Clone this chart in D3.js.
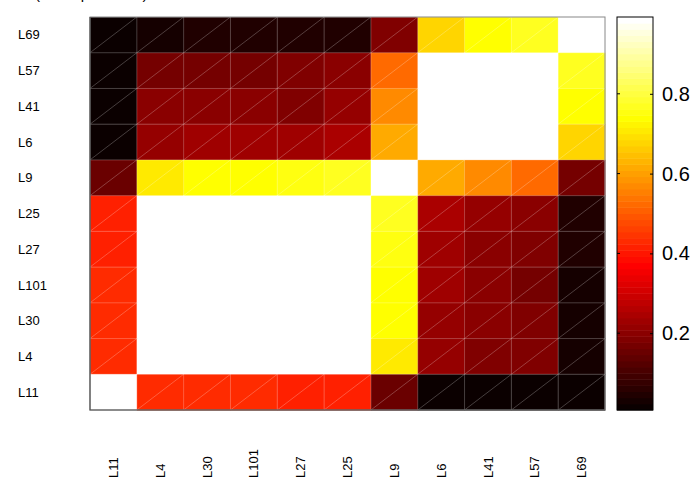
<!DOCTYPE html>
<html><head><meta charset="utf-8">
<script src="https://cdn.jsdelivr.net/npm/d3@7"></script>
<style>body{margin:0;background:#fff}svg{display:block;font-family:"Liberation Sans",Arial,sans-serif}</style>
</head><body><svg id="c" width="700" height="483"></svg>
<script>
const titleText = "(overlap fraction)";
const rowLabels = ["L69","L57","L41","L6","L9","L25","L27","L101","L30","L4","L11"];
const colLabels = ["L11","L4","L30","L101","L27","L25","L9","L6","L41","L57","L69"];
const rowL69  = [0.01,0.03,0.05,0.05,0.05,0.05,0.18,0.68,0.74,0.77,1.00];
const rowL57  = [0.01,0.17,0.17,0.17,0.18,0.20,0.52,1.00,1.00,1.00,0.77];
const rowL41  = [0.01,0.20,0.20,0.20,0.18,0.22,0.57,1.00,1.00,1.00,0.74];
const rowL6   = [0.01,0.22,0.23,0.23,0.23,0.25,0.62,1.00,1.00,1.00,0.68];
const rowL9   = [0.15,0.71,0.74,0.74,0.75,0.77,1.00,0.62,0.57,0.52,0.17];
const rowL25  = [0.415,1,1,1,1,1,0.77,0.25,0.22,0.20,0.05];
const rowL27  = [0.415,1,1,1,1,1,0.75,0.23,0.20,0.18,0.05];
const rowL101 = [0.43,1,1,1,1,1,0.74,0.23,0.20,0.17,0.03];
const rowL30  = [0.43,1,1,1,1,1,0.74,0.22,0.20,0.18,0.03];
const rowL4   = [0.43,1,1,1,1,1,0.71,0.22,0.18,0.18,0.03];
const rowL11  = [1,0.43,0.43,0.43,0.415,0.415,0.15,0.01,0.01,0.01,0.01];
const matrix = [rowL69,rowL57,rowL41,rowL6,rowL9,rowL25,rowL27,rowL101,rowL30,rowL4,rowL11];
const colorLimits = [0.0075, 0.9925];
const colorTicks = [0.2,0.4,0.6,0.8];

// MATLAB hot(64)
function hot(m){
  const n = Math.floor(3/8*m), out=[];
  for(let i=0;i<m;i++){
    const r = i<n ? (i+1)/n : 1;
    const g = i<n ? 0 : (i<2*n ? (i-n+1)/n : 1);
    const b = i<2*n ? 0 : (i-2*n+1)/(m-2*n);
    out.push(d3.rgb(r*255,g*255,b*255).formatHex());
  }
  return out;
}
const cmap = hot(64);
const color = d3.scaleQuantize().domain(colorLimits).range(cmap);

const svg = d3.select("#c");
const L=90,R=605,T=17,B=410;
const x = d3.scaleBand().domain(colLabels).range([L,R]);
const y = d3.scaleBand().domain(rowLabels).range([T,B]);

svg.append("text").attr("x",35).attr("y",-1).attr("font-size",15).attr("fill","#000").text(titleText);

const cells=[];
matrix.forEach((row,i)=>row.forEach((v,j)=>cells.push({r:rowLabels[i],c:colLabels[j],v})));
const g = svg.append("g");
g.selectAll("rect.cell").data(cells).join("rect").attr("class","cell")
  .attr("x",d=>x(d.c)).attr("y",d=>y(d.r))
  .attr("width",x.bandwidth()+0.5).attr("height",y.bandwidth()+0.5)
  .attr("fill",d=>color(d.v));
// faint cell edges and diagonals (renderer artifacts)
g.selectAll("path.edge").data(cells).join("path").attr("class","edge")
  .attr("d",d=>{const x0=x(d.c),y0=y(d.r),w=x.bandwidth(),h=y.bandwidth();
    return `M${x0},${y0+h}L${x0+w},${y0}M${x0},${y0}H${x0+w}V${y0+h}`;})
  .attr("fill","none").attr("stroke","#fff").attr("stroke-opacity",0.3).attr("stroke-width",0.8);

// axes frame
svg.append("rect").attr("x",L).attr("y",T).attr("width",R-L).attr("height",B-T)
  .attr("fill","none").attr("stroke","#888").attr("stroke-width",1);
svg.append("path").attr("d",`M${L},${T}V${B}H${R}`).attr("fill","none").attr("stroke","#555").attr("stroke-width",1.2);

// row labels
svg.append("g").selectAll("text").data(rowLabels).join("text")
  .attr("x",18).attr("y",d=>y(d)+y.bandwidth()/2).attr("dy","0.35em")
  .attr("font-size",13).attr("fill","#000").text(d=>d);
// column labels
svg.append("g").selectAll("text").data(colLabels).join("text")
  .attr("transform",d=>`translate(${x(d)+x.bandwidth()/2},478) rotate(-90)`)
  .attr("dy","0.35em").attr("text-anchor","start")
  .attr("font-size",13).attr("fill","#000").text(d=>d);

// colorbar
const CL=617,CR=653;
const cy = d3.scaleLinear().domain(colorLimits).range([B,T]);
const step=(colorLimits[1]-colorLimits[0])/64;
svg.append("g").selectAll("rect").data(cmap).join("rect")
  .attr("x",CL).attr("width",CR-CL)
  .attr("y",(c,i)=>cy(colorLimits[0]+(i+1)*step))
  .attr("height",(c,i)=>cy(colorLimits[0]+i*step)-cy(colorLimits[0]+(i+1)*step)+0.5)
  .attr("fill",c=>c);
svg.append("rect").attr("x",CL).attr("y",T).attr("width",CR-CL).attr("height",B-T)
  .attr("fill","none").attr("stroke","#000").attr("stroke-width",1);
const ax = svg.append("g").attr("transform",`translate(${CR},0)`)
  .call(d3.axisRight(cy).tickValues(colorTicks).tickSize(-3).tickPadding(9).tickFormat(d3.format(".1f")));
ax.select(".domain").remove();
ax.selectAll("text").attr("font-size",20).attr("font-family","Liberation Sans, Arial, sans-serif").attr("fill","#000");
svg.append("g").selectAll("line").data(colorTicks).join("line")
  .attr("x1",CL).attr("x2",CL+3).attr("y1",d=>cy(d)).attr("y2",d=>cy(d)).attr("stroke","#000");
</script></body></html>
